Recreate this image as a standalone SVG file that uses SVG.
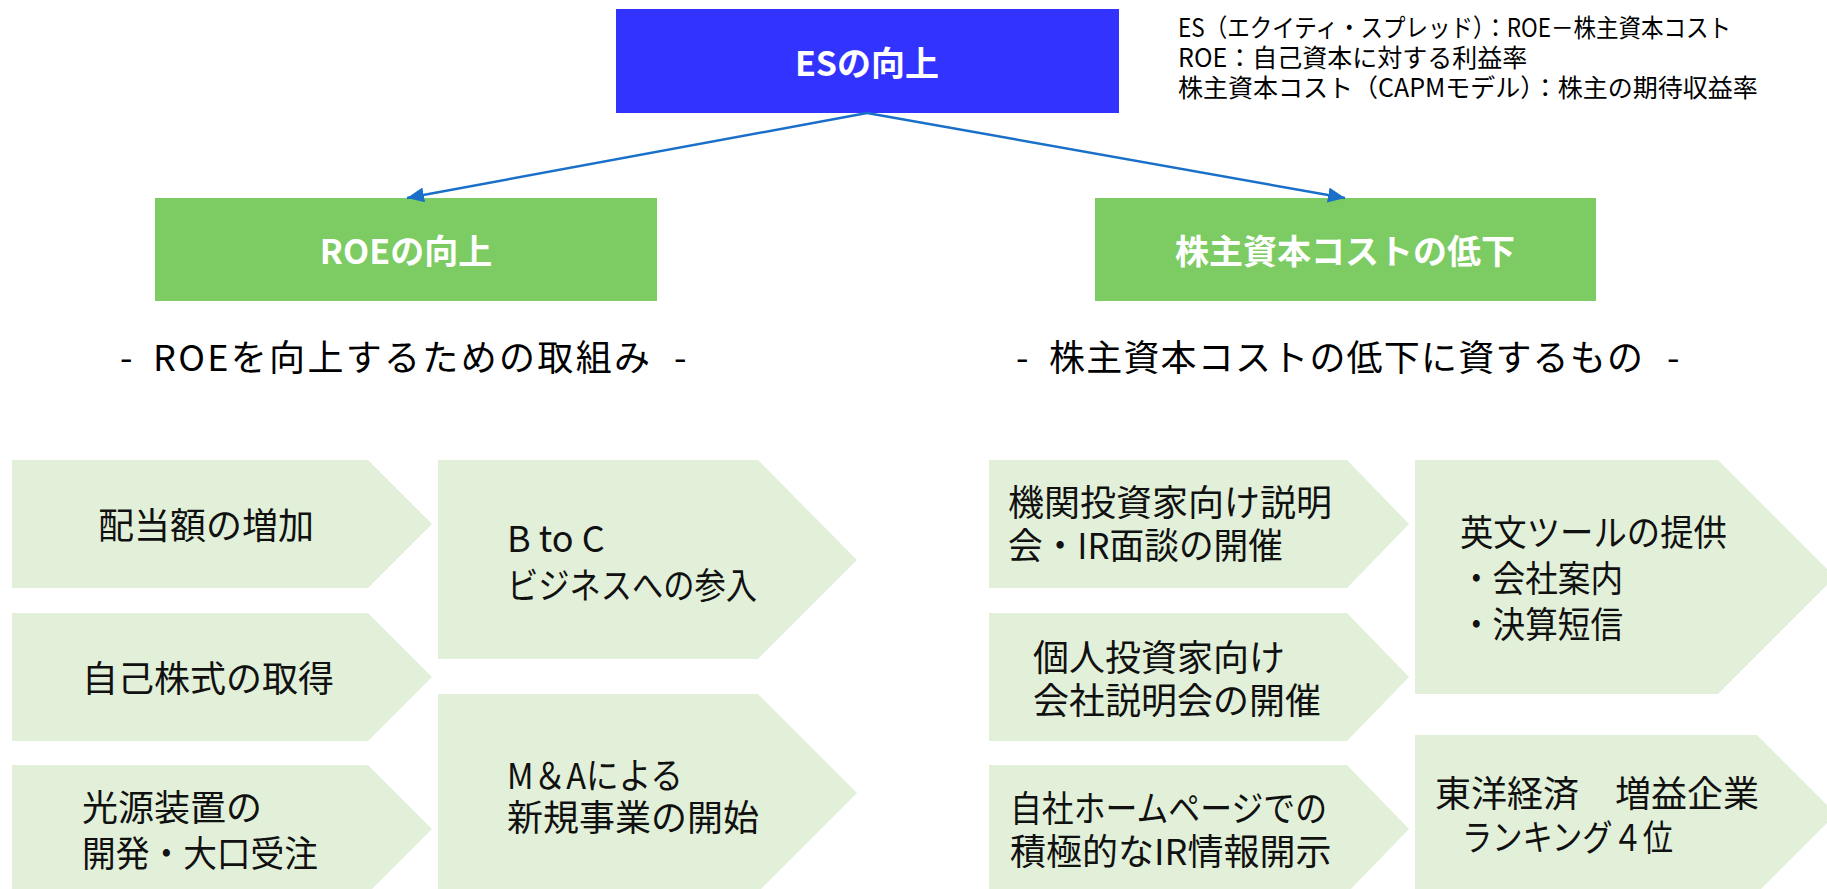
<svg xmlns="http://www.w3.org/2000/svg" width="1827" height="889" viewBox="0 0 1827 889">
<style>
text{font-family:"Noto Sans CJK JP","Noto Sans",sans-serif}
.title{font-size:34px;font-weight:bold;fill:#ffffff;text-anchor:middle}
.sub{font-size:36px;fill:#000000}
.note{font-size:25px;fill:#000000}
.body{font-size:36px;fill:#111111}
.chev{fill:#e2f0d9}
.green{fill:#7dcb63}
.blue{fill:#3333ff}
.conn{stroke:#1a6fc9;stroke-width:2.5;fill:none}
</style>
<defs>
<marker id="arr" markerUnits="userSpaceOnUse" markerWidth="18" markerHeight="16" refX="17" refY="7.5" orient="auto">
<path d="M0,0 L17,7.5 L0,15 z" fill="#1a6fc9"/>
</marker>
</defs>

<g id="es">
<rect class="blue" x="616" y="9" width="503" height="104"/>
<text class="title" x="867" y="76">ESの向上</text>
</g>

<g id="note">
<text class="note"><tspan x="1178" y="37" textLength="553" lengthAdjust="spacingAndGlyphs">ES（エクイティ・スプレッド）：ROE－株主資本コスト</tspan><tspan x="1178" y="66.5">ROE：自己資本に対する利益率</tspan><tspan x="1178" y="96.5">株主資本コスト（CAPMモデル）：株主の期待収益率</tspan></text>
</g>

<g id="roe">
<rect class="green" x="155" y="198" width="502" height="103"/>
<text class="title" x="406" y="264">ROEの向上</text>
</g>

<g id="cost">
<rect class="green" x="1095" y="198" width="501" height="103"/>
<text class="title" x="1345" y="264">株主資本コストの低下</text>
</g>

<g id="connectors">
<line class="conn" x1="867" y1="113" x2="407" y2="198" marker-end="url(#arr)"/>
<line class="conn" x1="867" y1="113" x2="1345" y2="198" marker-end="url(#arr)"/>
</g>

<g id="sub-left">
<text class="sub" y="371"><tspan x="120">- </tspan><tspan x="153" textLength="497" lengthAdjust="spacing">ROEを向上するための取組み</tspan><tspan x="666"> -</tspan></text>
</g>
<g id="sub-right">
<text class="sub" y="371"><tspan x="1016">- </tspan><tspan x="1049" textLength="594" lengthAdjust="spacing">株主資本コストの低下に資するもの</tspan><tspan x="1659"> -</tspan></text>
</g>

<g id="l1">
<polygon class="chev" points="12,460 368,460 432,524 368,588 12,588"/>
<text class="body" x="98" y="539">配当額の増加</text>
</g>
<g id="l2">
<polygon class="chev" points="12,613 368,613 432,677 368,741 12,741"/>
<text class="body" x="82" y="692">自己株式の取得</text>
</g>
<g id="l3">
<polygon class="chev" points="12,765 368,765 432,829 368,893 12,893"/>
<text class="body"><tspan x="82" y="821">光源装置の</tspan><tspan x="82" y="867" textLength="236" lengthAdjust="spacingAndGlyphs">開発・大口受注</tspan></text>
</g>
<g id="l4">
<polygon class="chev" points="438,460 758,460 857,560 758,659 438,659"/>
<text class="body"><tspan x="507" y="552">B to C</tspan><tspan x="507" y="599" textLength="250" lengthAdjust="spacingAndGlyphs">ビジネスへの参入</tspan></text>
</g>
<g id="l5">
<polygon class="chev" points="438,694 758,694 857,793 758,892 438,892"/>
<text class="body"><tspan x="507" y="789" textLength="176" lengthAdjust="spacingAndGlyphs">M＆Aによる</tspan><tspan x="507" y="831">新規事業の開始</tspan></text>
</g>

<g id="r1">
<polygon class="chev" points="989,460 1347,460 1409,524 1347,588 989,588"/>
<text class="body"><tspan x="1008" y="516">機関投資家向け説明</tspan><tspan x="1008" y="559" textLength="275" lengthAdjust="spacingAndGlyphs">会・IR面談の開催</tspan></text>
</g>
<g id="r2">
<polygon class="chev" points="989,613 1347,613 1409,677 1347,741 989,741"/>
<text class="body"><tspan x="1033" y="671">個人投資家向け</tspan><tspan x="1033" y="714">会社説明会の開催</tspan></text>
</g>
<g id="r3">
<polygon class="chev" points="989,765 1347,765 1409,829 1347,893 989,893"/>
<text class="body"><tspan x="1010" y="822" textLength="317" lengthAdjust="spacingAndGlyphs">自社ホームページでの</tspan><tspan x="1010" y="865">積極的なIR情報開示</tspan></text>
</g>
<g id="r4">
<polygon class="chev" points="1415,460 1718,460 1835,577 1718,694 1415,694"/>
<text class="body"><tspan x="1460" y="546" textLength="267" lengthAdjust="spacingAndGlyphs">英文ツールの提供</tspan><tspan x="1460" y="592" textLength="163" lengthAdjust="spacingAndGlyphs">・会社案内</tspan><tspan x="1460" y="638" textLength="163" lengthAdjust="spacingAndGlyphs">・決算短信</tspan></text>
</g>
<g id="r5">
<polygon class="chev" points="1415,735 1757,735 1836,814 1757,893 1415,893"/>
<text class="body"><tspan x="1435" y="807">東洋経済　増益企業</tspan><tspan x="1462" y="851" textLength="211" lengthAdjust="spacingAndGlyphs">ランキング４位</tspan></text>
</g>
</svg>
